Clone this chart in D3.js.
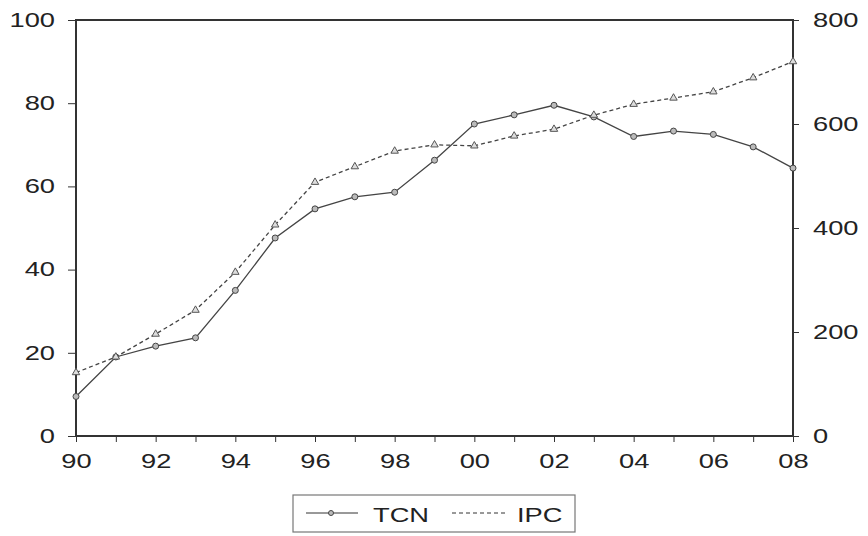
<!DOCTYPE html>
<meta charset="utf-8">
<style>
body { margin: 0; background: #fff; }
.axis text { font-family: "Liberation Sans", Arial, sans-serif; font-size: 21px; fill: #222; }
.axis path { display: none; }
.axis line { stroke: #333; stroke-width: 1px; }
.line { fill: none; stroke: #444; stroke-width: 1.3px; }
</style>
<body>
<script src="https://cdn.jsdelivr.net/npm/d3@7"></script>
<script>

// data
var years = [1990,1991,1992,1993,1994,1995,1996,1997,1998,1999,2000,2001,2002,2003,2004,2005,2006,2007,2008];
var tcn = [9.5,19,21.6,23.6,35,47.6,54.6,57.5,58.6,66.3,75,77.2,79.5,76.7,72,73.3,72.5,69.5,64.4];
var ipc = [122,152,196,242,315,406,488,518,548,560,558,577,590,617,638,650,662,689,720];
var leftTicks = [0,20,40,60,80,100];
var rightTicks = [0,200,400,600,800];
var xLabelYears = [1990,1992,1994,1996,1998,2000,2002,2004,2006,2008];

var margin = {top: 20, right: 75, bottom: 100, left: 76},
    width = 868 - margin.left - margin.right,
    height = 536 - margin.top - margin.bottom;

// the text in the picture is drawn wide, stretch it sideways
var sx = 1.3;
function stretch(sel) {
  sel.each(function() {
    var t = d3.select(this);
    t.attr("x", (+t.attr("x") || 0) / sx).attr("transform", "scale(" + sx + ",1)");
  });
}

var svg = d3.select("body").append("svg")
    .attr("width", 868)
    .attr("height", 536)
  .append("g")
    .attr("transform", "translate(" + margin.left + "," + margin.top + ")");

var x = d3.scaleLinear().domain([1990, 2008]).range([0, width]);
var yL = d3.scaleLinear().domain([0, 100]).range([height, 0]);
var yR = d3.scaleLinear().domain([0, 800]).range([height, 0]);

// axes
svg.append("g")
    .attr("class", "axis")
    .call(d3.axisLeft(yL).tickValues(leftTicks).tickSize(8).tickPadding(13))
    .selectAll("text").attr("dy", "0.3em").call(stretch);

svg.append("g")
    .attr("class", "axis")
    .attr("transform", "translate(" + width + ",0)")
    .call(d3.axisRight(yR).tickValues(rightTicks).tickSize(6).tickPadding(14))
    .selectAll("text").attr("dy", "0.3em").call(stretch);

svg.append("g")
    .attr("class", "axis")
    .attr("transform", "translate(0," + height + ")")
    .call(d3.axisBottom(x).tickValues(years).tickSize(6).tickPadding(11)
      .tickFormat(function(d) { return xLabelYears.indexOf(d) >= 0 ? d3.format("02")(d % 100) : ""; }))
    .selectAll("text").call(stretch);

// frame
svg.append("rect")
    .attr("width", width)
    .attr("height", height)
    .attr("fill", "none")
    .attr("stroke", "#333")
    .attr("stroke-width", 2);

// lines
var lineL = d3.line().x(function(d, i) { return x(years[i]); }).y(function(d) { return yL(d); });
var lineR = d3.line().x(function(d, i) { return x(years[i]); }).y(function(d) { return yR(d); });

svg.append("path").datum(tcn).attr("class", "line").attr("d", lineL);
svg.append("path").datum(ipc).attr("class", "line")
    .attr("stroke-dasharray", "4,3").attr("d", lineR);

svg.selectAll(".tcnpt").data(tcn).enter().append("circle")
    .attr("cx", function(d, i) { return x(years[i]); })
    .attr("cy", function(d) { return yL(d); })
    .attr("r", 3)
    .attr("fill", "#bbb")
    .attr("stroke", "#444")
    .attr("stroke-width", 1);

var tri = d3.symbol().type(d3.symbolTriangle).size(24);
svg.selectAll(".ipcpt").data(ipc).enter().append("path")
    .attr("d", tri)
    .attr("transform", function(d, i) { return "translate(" + x(years[i]) + "," + yR(d) + ")"; })
    .attr("fill", "#ddd")
    .attr("stroke", "#555")
    .attr("stroke-width", 1);

// legend
var lg = d3.select("svg").append("g").attr("class", "axis");
lg.append("rect")
    .attr("x", 293).attr("y", 495).attr("width", 282).attr("height", 37)
    .attr("fill", "#fff").attr("stroke", "#777").attr("stroke-width", 1.2);
lg.append("line").attr("x1", 306).attr("x2", 358).attr("y1", 513).attr("y2", 513)
    .attr("stroke", "#444").attr("stroke-width", 1.2);
lg.append("circle").attr("cx", 331).attr("cy", 513).attr("r", 2.5)
    .attr("fill", "#bbb").attr("stroke", "#444");
lg.append("line").attr("x1", 452).attr("x2", 507).attr("y1", 513).attr("y2", 513)
    .attr("stroke", "#555").attr("stroke-width", 1.2).attr("stroke-dasharray", "4,3");
lg.append("path").attr("d", tri).attr("transform", "translate(479,512)")
    .attr("fill", "#fff").attr("stroke", "#444");
lg.append("text").attr("x", 373).attr("y", 522).text("TCN").call(stretch);
lg.append("text").attr("x", 517).attr("y", 522).text("IPC").call(stretch);

</script>
</body>
